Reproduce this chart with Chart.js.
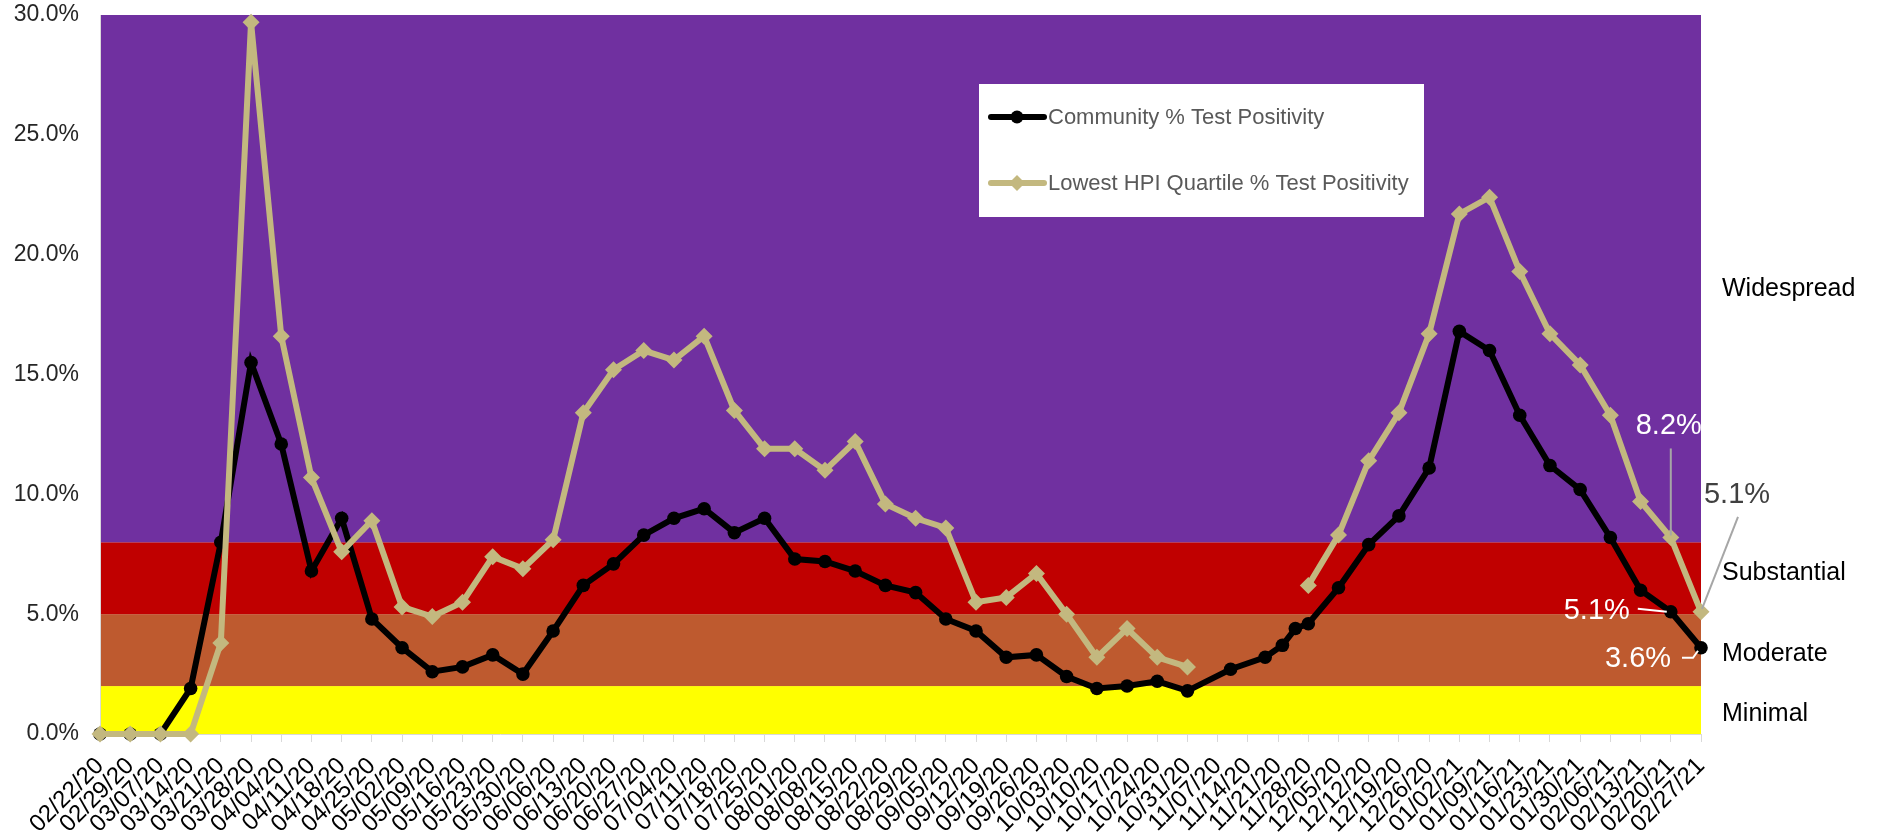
<!DOCTYPE html>
<html><head><meta charset="utf-8">
<script src="https://cdn.jsdelivr.net/npm/chart.js@4.4.1/dist/chart.umd.min.js"></script>
<style>html,body{margin:0;padding:0;background:#fff;}canvas{display:block;}</style>
</head><body>
<canvas id="c" width="1878" height="840"></canvas>
<script>
// ---------- data ----------
const categories = ['02/22/20','02/29/20','03/07/20','03/14/20','03/21/20','03/28/20','04/04/20','04/11/20','04/18/20','04/25/20',
  '05/02/20','05/09/20','05/16/20','05/23/20','05/30/20','06/06/20','06/13/20','06/20/20','06/27/20','07/04/20',
  '07/11/20','07/18/20','07/25/20','08/01/20','08/08/20','08/15/20','08/22/20','08/29/20','09/05/20','09/12/20',
  '09/19/20','09/26/20','10/03/20','10/10/20','10/17/20','10/24/20','10/31/20','11/07/20','11/14/20','11/21/20',
  '11/28/20','12/05/20','12/12/20','12/19/20','12/26/20','01/02/21','01/09/21','01/16/21','01/23/21','01/30/21',
  '02/06/21','02/13/21','02/20/21','02/27/21'];
const tanValues = [0,0,0,0,3.8,29.7,16.6,10.7,7.6,8.9,
  5.3,4.9,5.5,7.4,6.9,8.1,13.4,15.2,16.0,15.6,
  16.6,13.5,11.9,11.9,11.0,12.2,9.6,9.0,8.6,5.5,
  5.7,6.7,5.0,3.2,4.4,3.2,2.8,null,null,null,
  6.2,8.3,11.4,13.4,16.7,21.7,22.4,19.3,16.7,15.4,
  13.3,9.7,8.2,5.1];
const blackDates = ['02/22/20','02/29/20','03/07/20','03/14/20','03/21/20','03/28/20','04/04/20','04/11/20','04/18/20','04/25/20',
  '05/02/20','05/09/20','05/16/20','05/23/20','05/30/20','06/06/20','06/13/20','06/20/20','06/27/20','07/04/20',
  '07/11/20','07/18/20','07/25/20','08/01/20','08/08/20','08/15/20','08/22/20','08/29/20','09/05/20','09/12/20',
  '09/19/20','09/26/20','10/03/20','10/10/20','10/17/20','10/24/20','10/31/20','11/10/20','11/18/20','11/22/20',
  '11/25/20','11/28/20','12/05/20','12/12/20','12/19/20','12/26/20','01/02/21','01/09/21','01/16/21','01/23/21',
  '01/30/21','02/06/21','02/13/21','02/20/21','02/27/21'];
const blackValues = [0,0,0,1.9,8.0,15.5,12.1,6.8,9.0,4.8,
  3.6,2.6,2.8,3.3,2.5,4.3,6.2,7.1,8.3,9.0,
  9.4,8.4,9.0,7.3,7.2,6.8,6.2,5.9,4.8,4.3,
  3.2,3.3,2.4,1.9,2.0,2.2,1.8,2.7,3.2,3.7,
  4.4,4.6,6.1,7.9,9.1,11.1,16.8,16.0,13.3,11.2,
  10.2,8.2,6.0,5.1,3.6];
const yTicks = [0,5,10,15,20,25,30];
const bandNames = ['Minimal','Moderate','Substantial','Widespread'];
const bandFrom = [0,2,5,8];
const bandTo = [2,5,8,30];
const seriesNames = ['Community % Test Positivity','Lowest HPI Quartile % Test Positivity'];

// ---------- helpers ----------
const FONT = "'Liberation Sans', Arial, sans-serif";
const TAN = '#C3B87F';
const BAND_COLORS = ['#FFFF00','#BE5A2F','#C00000','#7030A0'];
function dayOf(s){const [m,d,y]=s.split('/').map(Number);return Math.round((Date.UTC(2000+y,m-1,d)-Date.UTC(2020,1,22))/86400000);}
const tanPts = categories.map((c,i)=>({x:dayOf(c),y:tanValues[i]}));
const blackPts = blackDates.map((c,i)=>({x:dayOf(c),y:blackValues[i]}));
const pct = v => v.toFixed(1)+'%';

function drawMarker(ctx, style, x, y, r, color){
  ctx.save();ctx.fillStyle=color;ctx.beginPath();
  if(style==='circle'){ctx.arc(x,y,r,0,Math.PI*2);}
  else {ctx.moveTo(x,y-r);ctx.lineTo(x+r,y);ctx.lineTo(x,y+r);ctx.lineTo(x-r,y);ctx.closePath();}
  ctx.fill();ctx.restore();
}

const bandsPlugin = {
  id:'bands',
  beforeDraw(chart){
    const {ctx, chartArea:a, scales:{y}} = chart;
    ctx.save();
    bandFrom.forEach((f,i)=>{
      const top=y.getPixelForValue(bandTo[i]), bot=y.getPixelForValue(f);
      ctx.fillStyle=BAND_COLORS[i];ctx.fillRect(a.left,top,a.right-a.left,bot-top);
    });
    ctx.restore();
  }
};

const annotPlugin = {
  id:'annot',
  afterDatasetsDraw(chart, args, opts){
    const {ctx, chartArea:a} = chart;
    opts.items.forEach(it=>{
      const dsIndex = it.series==='tan'?0:1;
      const dates = it.series==='tan'?categories:blackDates;
      const vals = it.series==='tan'?tanValues:blackValues;
      const idx = dates.indexOf(it.date);
      const el = chart.getDatasetMeta(dsIndex).data[idx];
      const px=el.x, py=el.y;
      ctx.save();
      ctx.strokeStyle=it.lineColor;ctx.lineWidth=2;ctx.beginPath();
      it.leader.forEach((p,k)=>{k?ctx.lineTo(px+p[0],py+p[1]):ctx.moveTo(px+p[0],py+p[1]);});
      ctx.stroke();
      if(it.clip){ctx.beginPath();ctx.rect(a.left,a.top,a.right-a.left,a.bottom-a.top);ctx.clip();}
      ctx.fillStyle=it.color;ctx.font='29px '+FONT;ctx.textAlign='center';ctx.textBaseline='middle';
      ctx.fillText(pct(vals[idx]), px+it.dx, py+it.dy);
      ctx.restore();
    });
  }
};

const sideLegendPlugin = {
  id:'sideLegend',
  afterDraw(chart, args, opts){
    const {ctx, chartArea:a, scales:{y}} = chart;
    ctx.save();
    ctx.fillStyle='#000';ctx.font='25px '+FONT;ctx.textAlign='left';ctx.textBaseline='middle';
    bandNames.forEach((n,i)=>ctx.fillText(n, a.right+opts.bandLabelGap, y.getPixelForValue(opts.bandLabelAt[i])));
    const b=opts.box;
    ctx.fillStyle='#fff';ctx.fillRect(b.x,b.y,b.w,b.h);
    const items=[{name:seriesNames[0],color:'#000',style:'circle',r:6.5},{name:seriesNames[1],color:TAN,style:'diamond',r:8}];
    items.forEach((it,i)=>{
      const yy=b.y+opts.rowY[i];
      ctx.strokeStyle=it.color;ctx.lineWidth=6;ctx.lineCap='round';
      ctx.beginPath();ctx.moveTo(b.x+12,yy);ctx.lineTo(b.x+65,yy);ctx.stroke();
      drawMarker(ctx,it.style,b.x+38,yy,it.r,it.color);
      ctx.fillStyle='#595959';ctx.font='22px '+FONT;ctx.textAlign='left';ctx.textBaseline='middle';
      ctx.fillText(it.name,b.x+69,yy+1);
    });
    ctx.restore();
  }
};

new Chart(document.getElementById('c').getContext('2d'), {
  type:'line',
  data:{datasets:[
    {label:seriesNames[1],data:tanPts,borderColor:TAN,backgroundColor:TAN,borderWidth:6,pointStyle:'rectRot',
     pointRadius:8.5,pointHoverRadius:8.5,pointBorderWidth:0,spanGaps:false,tension:0,order:1,clip:false},
    {label:seriesNames[0],data:blackPts,borderColor:'#000',backgroundColor:'#000',borderWidth:6,pointStyle:'circle',
     pointRadius:6.8,pointHoverRadius:6.8,pointBorderWidth:0,tension:0,order:2,clip:false}
  ]},
  options:{
    responsive:false, animation:false, devicePixelRatio:1,
    layout:{padding:{left:0,right:177,top:15,bottom:0}},
    plugins:{
      legend:{display:false}, tooltip:{enabled:false},
      annot:{items:[
        {series:'tan',date:'02/20/21',color:'#ffffff',lineColor:'#A6A6A6',dx:-2,dy:-111,clip:true,leader:[[0,-89],[0,-2]]},
        {series:'tan',date:'02/27/21',color:'#404040',lineColor:'#A6A6A6',dx:36,dy:-117,leader:[[37,-95],[1,-3]]},
        {series:'black',date:'02/20/21',color:'#ffffff',lineColor:'#ffffff',dx:-74,dy:-1,leader:[[-33,-3],[-4,0]]},
        {series:'black',date:'02/27/21',color:'#ffffff',lineColor:'#ffffff',dx:-63,dy:11,leader:[[-19,10],[-8,10],[-3,3]]}
      ]},
      sideLegend:{bandLabelAt:[0.85,3.35,6.7,18.55],bandLabelGap:21,box:{x:979,y:84,w:445,h:133},rowY:[33,99]}
    },
    scales:{
      x:{type:'linear',min:0,max:dayOf(categories[categories.length-1]),
        afterBuildTicks:s=>{s.ticks=categories.map(c=>({value:dayOf(c)}));},
        ticks:{autoSkip:false,maxRotation:45,minRotation:45,padding:10,color:'#000',font:{family:FONT,size:24},
          callback:v=>{const i=categories.findIndex(c=>dayOf(c)===v);return i>=0?categories[i]:'';}},
        grid:{drawOnChartArea:false,color:'#D9D9D9',tickColor:'#D9D9D9',tickLength:8},
        border:{color:'#D9D9D9'},
        afterFit:s=>{s.height=106;s.paddingLeft=0;s.paddingRight=0;}},
      y:{min:0,max:30,
        afterBuildTicks:s=>{s.ticks=yTicks.map(v=>({value:v}));},
        ticks:{callback:v=>pct(v),padding:21,color:'#262626',font:{family:FONT,size:23}},
        grid:{display:false,drawTicks:false},
        border:{color:'#D9D9D9'},
        afterFit:s=>{s.width=100;s.paddingTop=0;s.paddingBottom=0;}}
    }
  },
  plugins:[bandsPlugin,annotPlugin,sideLegendPlugin]
});
</script>
</body></html>
